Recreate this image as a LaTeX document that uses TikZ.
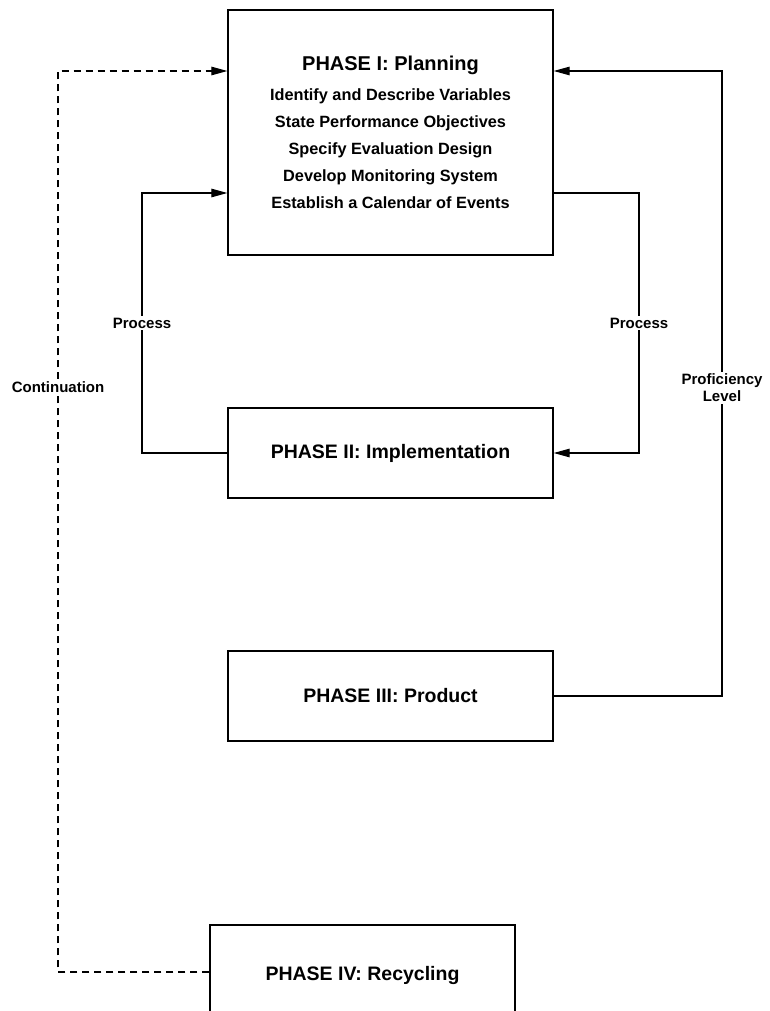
\documentclass[tikz,border=0pt]{standalone}
\usepackage{fontspec}
\setmainfont{Liberation Sans}
\usetikzlibrary{arrows.meta}
\begin{document}
\begin{tikzpicture}[x=1pt,y=-1pt,
  line width=1.2pt,
  phasebox/.style={draw, line width=1.3pt, inner sep=0pt, align=center,
    font=\bfseries\fontsize{19.5}{23}\selectfont},
  arr/.style={-{Triangle[length=16pt,width=8.5pt]}},
  dsh/.style={dash pattern=on 7pt off 5pt},
  lbl/.style={fill=white, inner sep=2pt, align=center,
    font=\bfseries\fontsize{15}{17}\selectfont}]
\clip (0,0) rectangle (769,1011);
\useasboundingbox (0,0) rectangle (769,1011);

\node[phasebox, minimum width=325pt, minimum height=245pt,
  font=\bfseries\fontsize{16.3}{27}\selectfont] (I) at (390.5,132.5)
  {{\fontsize{20}{23}\selectfont PHASE I: Planning}\\[3pt]
   Identify and Describe Variables\\
   State Performance Objectives\\
   Specify Evaluation Design\\
   Develop Monitoring System\\
   Establish a Calendar of Events};
\node[phasebox, minimum width=325pt, minimum height=90pt] (II) at (390.5,453) {PHASE II: Implementation};
\node[phasebox, minimum width=325pt, minimum height=90pt] (III) at (390.5,696) {PHASE III: Product};
\node[phasebox, minimum width=305pt, minimum height=100pt] (IV) at (362.5,975) {PHASE IV: Recycling};

\coordinate (cL) at (58,972);
\coordinate (cT) at (58,71);
\coordinate (pL) at (142,193);
\coordinate (pR) at (639,193);
\coordinate (fR) at (722,71);

% Continuation (dashed)
\draw[dsh, arr] (IV.west |- cL) -- (cL) -- (cT) -- (I.west |- cT);
\node[lbl] (cont) at (58,387) {Continuation};

% Left process
\draw[arr] (II.west) -- (II.west -| pL) -- (pL) -- (I.west |- pL);
\node[lbl] (procL) at (142,323) {Process};

% Right process
\draw[arr] (I.east |- pR) -- (pR) -- (pR |- II.east) -- (II.east);
\node[lbl] (procR) at (639,323) {Process};

% Proficiency level
\draw[arr] (III.east) -- (III.east -| fR) -- (fR) -- (I.east |- fR);
\node[lbl] (prof) at (722,388) {Proficiency\\Level};
\end{tikzpicture}
\end{document}
